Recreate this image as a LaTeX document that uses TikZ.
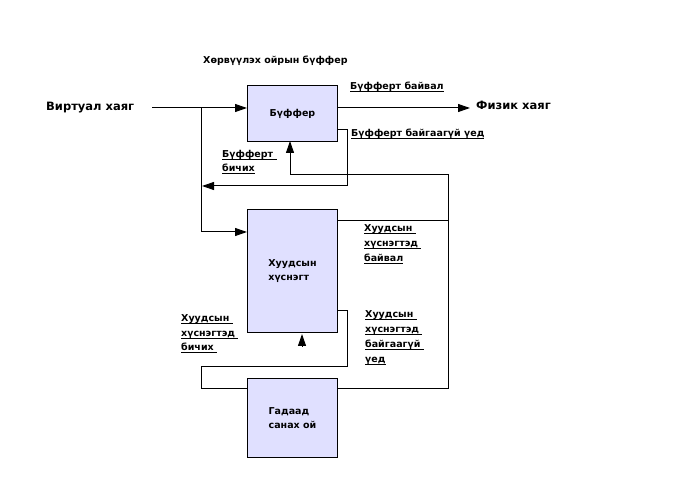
\documentclass[tikz,border=0pt]{standalone}
\usepackage{fontspec}
\setmainfont{DejaVu Sans}
\usetikzlibrary{arrows.meta}
\definecolor{boxfill}{RGB}{224,224,255}
\newcommand\myul[1]{\setbox0\hbox{#1}\rlap{\rule[-2pt]{\wd0}{0.9pt}}\box0}
\begin{document}
\begin{tikzpicture}[x=1pt,y=-1pt,
  box/.style={draw,fill=boxfill,line width=1pt,minimum width=90pt,inner sep=0pt,anchor=north west,align=left,font=\bfseries\fontsize{9.5}{14.5}\selectfont},
  wire/.style={line width=1pt},
  tip/.style={-{Triangle[length=12pt,width=8pt]}},
  lab/.style={font=\bfseries\fontsize{9.5}{11}\selectfont,anchor=base west,inner sep=0pt},
  big/.style={font=\bfseries\fontsize{11.5}{13}\selectfont,anchor=base west,inner sep=0pt}]
\useasboundingbox (0,0) rectangle (689,494);
% boxes
\node[box,minimum height=56pt] (buf) at (247,85) {Бүффер};
\node[box,minimum height=123pt] (hs) at (247,209) {Хуудсын\\хүснэгт\hspace{8pt}};
\node[box,minimum height=79pt] (gd) at (247,378) {Гадаад\\санах ой};
% big labels
\node[big] (va) at (46,111) {Виртуал хаяг};
\node[big] (fiz) at (476,110) {Физик хаяг};
% labels
\node[lab] (title) at (203,64) {Хөрвүүлэх ойрын бүффер};
\node[lab] (l1) at (350,90) {\myul{Бүфферт байвал}};
\node[lab] (l2) at (351,136.5) {\myul{Бүфферт байгаагүй үед}};
\node[lab] (l3a) at (222,158) {\myul{Бүфферт }};
\node[lab] (l3b) at (222,171.5) {\myul{бичих}};
\node[lab] (l4a) at (364,232) {\myul{Хуудсын }};
\node[lab] (l4b) at (364,247) {\myul{хүснэгтэд }};
\node[lab] (l4c) at (364,262) {\myul{байвал}};
\node[lab] (l5a) at (365,317.5) {\myul{Хуудсын }};
\node[lab] (l5b) at (365,332.5) {\myul{хүснэгтэд }};
\node[lab] (l5c) at (365,347.5) {\myul{байгаагүй }};
\node[lab] (l5d) at (365,362.5) {\myul{үед}};
\node[lab] (l6a) at (181,322) {\myul{Хуудсын }};
\node[lab] (l6b) at (181,336.5) {\myul{хүснэгтэд }};
\node[lab] (l6c) at (181,351) {\myul{бичих }};
% coordinates
\coordinate (vaend) at (152,108);
\coordinate (j1) at (201,108);
\coordinate (fizin) at (470,108);
\coordinate (hsrow) at (0,232);
\coordinate (bnf) at (0,130);
\coordinate (b1) at (347,130);
\coordinate (b2) at (347,186);
\coordinate (b3) at (202,186);
\coordinate (hfrow) at (0,221);
\coordinate (r1) at (448,221);
\coordinate (gdrow) at (0,389);
\coordinate (r2) at (448,389);
\coordinate (r3) at (448,175);
\coordinate (r4) at (290,175);
\coordinate (r5) at (290,141);
\coordinate (nfrow) at (0,311);
\coordinate (n1) at (347,311);
\coordinate (n2) at (347,367);
\coordinate (n3) at (201,367);
\coordinate (n4) at (201,389);
\coordinate (t1) at (302,346);
\coordinate (t2) at (302,334);
% connectors
\draw[wire,tip] (vaend) -- (vaend -| buf.west);
\draw[wire,tip] (j1) |- (hs.west |- hsrow);
\draw[wire,tip] (vaend -| buf.east) -- (fizin);
\draw[wire,tip] (buf.east |- bnf) -- (b1) -- (b2) -- (b3);
\draw[wire] (hs.east |- hfrow) -- (r1);
\draw[wire,tip] (gd.east |- gdrow) -- (r2) -- (r3) -- (r4) -- (r5);
\draw[wire] (hs.east |- nfrow) -- (n1) -- (n2) -- (n3) -- (n4) -- (gd.west |- gdrow);
\draw[wire,tip] (t1) -- (t2);
\end{tikzpicture}
\end{document}
